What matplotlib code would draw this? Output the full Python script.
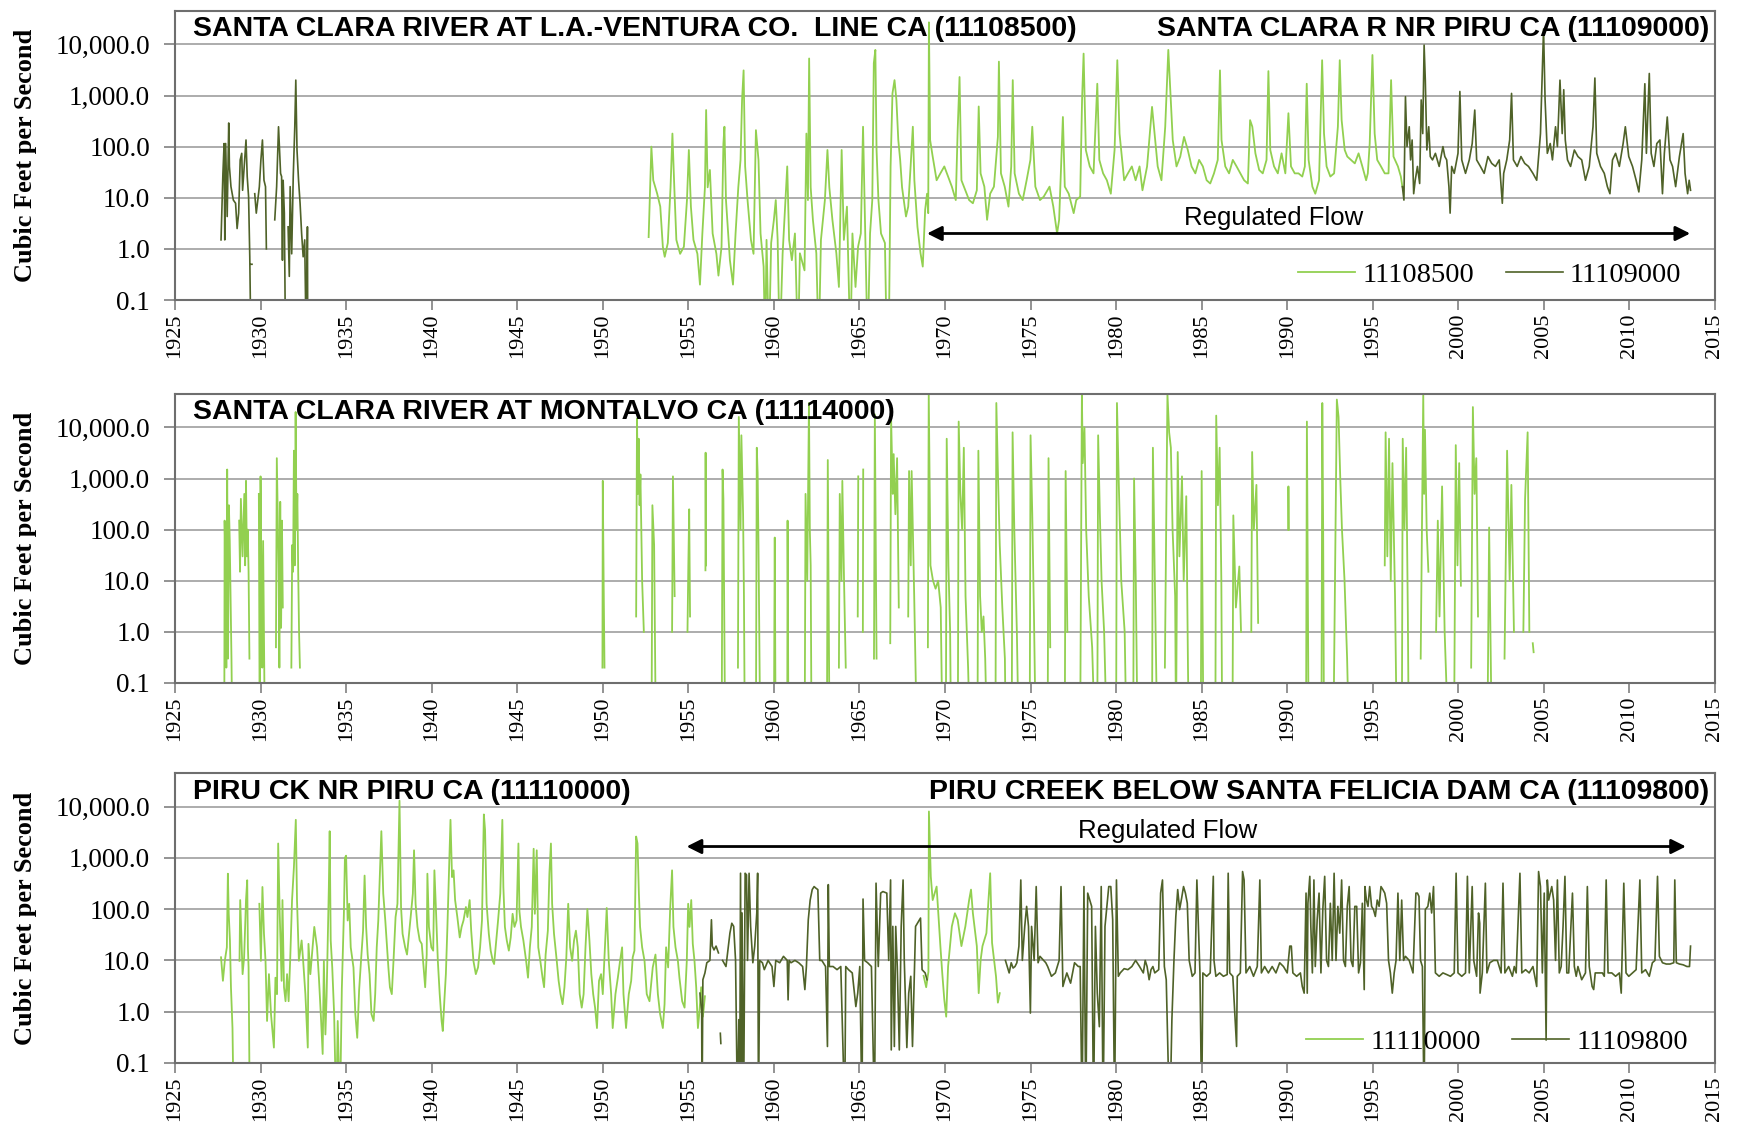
import matplotlib

matplotlib.use("Agg")
import matplotlib.pyplot as plt
import numpy as np
from matplotlib.ticker import FixedLocator, NullLocator

LIGHT = "#92D050"
DARK = "#4F6228"
FLOOR = 0.01  # zero flow is drawn down to the floor (below the 0.1 axis)

YTICKS = [0.1, 1, 10, 100, 1000, 10000]
YTICK_LABELS = ["0.1", "1.0", "10.0", "100.0", "1,000.0", "10,000.0"]
XTICKS = list(range(1925, 2016, 5))

# ---- panel 1 ---------------------------------------------------------------
# SANTA CLARA R NR PIRU CA (11109000), daily cfs
Q_11109000 = [
    (1927.69, 1.5), (1927.8, 30), (1927.87, 115), (1927.91, 1.5), (1927.96, 115),
    (1928.05, 4.3), (1928.14, 290), (1928.18, 41), (1928.27, 16.5), (1928.41, 9),
    (1928.54, 7.8), (1928.63, 2.5), (1928.72, 5), (1928.81, 55), (1928.9, 74),
    (1928.95, 14), (1929.08, 64), (1929.15, 135), (1929.22, 26), (1929.3, 10.5),
    (1929.37, 0.7), (1929.44, 0), (1929.45, None), (1929.46, 0.5), (1929.5, 0.5),
    (1929.52, None), (1929.66, 12), (1929.75, 5), (1929.93, 16.5), (1930.02, 55),
    (1930.11, 135), (1930.2, 22), (1930.29, 16.5), (1930.34, 1.0), (1930.36, None),
    (1930.83, 3.7), (1930.94, 16.5), (1931.05, 245), (1931.17, 30), (1931.23, 26),
    (1931.28, 0.6), (1931.32, 22), (1931.39, 5), (1931.46, 0), (1931.5, None),
    (1931.61, 2.7), (1931.68, 0.29), (1931.73, 16.5), (1931.82, 0.8), (1931.91, 26),
    (1932.0, 245), (1932.06, 2000), (1932.13, 86), (1932.22, 22), (1932.31, 7.8),
    (1932.4, 2.0), (1932.49, 0.7), (1932.58, 1.5), (1932.67, 0), (1932.74, 2.7),
    (1932.76, 0), (1932.8, None),
    (1996.73, 16.5), (1996.82, 9), (1996.91, 950), (1997.0, 100), (1997.13, 245),
    (1997.21, 55), (1997.3, 135), (1997.39, 12), (1997.48, 22), (1997.61, 41),
    (1997.74, 19), (1997.83, 820), (1997.92, 180), (1998.0, 9700), (1998.07, 2000),
    (1998.16, 86), (1998.27, 245), (1998.36, 64), (1998.49, 55), (1998.66, 74),
    (1998.88, 41), (1999.1, 100), (1999.21, 64), (1999.32, 55), (1999.45, 16.5),
    (1999.52, 5), (1999.61, 41), (1999.76, 30), (1999.98, 74), (2000.09, 1200),
    (2000.2, 55), (2000.42, 30), (2000.64, 55), (2000.81, 115), (2000.96, 520),
    (2001.07, 55), (2001.29, 41), (2001.51, 30), (2001.73, 64), (2001.95, 47),
    (2002.17, 41), (2002.39, 55), (2002.57, 7.8), (2002.65, 30), (2002.83, 55),
    (2003.0, 135), (2003.11, 1100), (2003.22, 55), (2003.44, 41), (2003.66, 64),
    (2003.88, 47), (2004.1, 41), (2004.36, 30), (2004.58, 22), (2004.8, 180),
    (2004.91, 3100), (2004.98, 20000), (2005.07, 820), (2005.2, 74), (2005.37, 115),
    (2005.5, 55), (2005.68, 245), (2005.79, 100), (2005.94, 2000), (2006.07, 180),
    (2006.16, 1300), (2006.25, 135), (2006.38, 55), (2006.56, 41), (2006.78, 86),
    (2006.99, 64), (2007.21, 55), (2007.43, 22), (2007.65, 41), (2007.87, 245),
    (2007.98, 2200), (2008.09, 74), (2008.31, 41), (2008.53, 30), (2008.71, 16.5),
    (2008.86, 12), (2009.01, 55), (2009.19, 74), (2009.41, 41), (2009.63, 115),
    (2009.76, 245), (2009.96, 64), (2010.18, 41), (2010.39, 22), (2010.55, 13),
    (2010.72, 55), (2010.9, 1700), (2010.99, 74), (2011.16, 2700), (2011.27, 74),
    (2011.43, 41), (2011.6, 115), (2011.78, 135), (2011.93, 12), (2012.04, 74),
    (2012.21, 380), (2012.37, 55), (2012.52, 41), (2012.7, 16.5), (2012.92, 64),
    (2013.14, 180), (2013.25, 30), (2013.4, 12), (2013.49, 22), (2013.57, 14),
]

# SANTA CLARA RIVER AT L.A.-VENTURA CO. LINE CA (11108500)
Q_11108500 = [
    (1952.68, 1.7), (1952.84, 100), (1952.95, 22), (1953.18, 12), (1953.36, 6.7),
    (1953.51, 1.1), (1953.62, 0.7), (1953.8, 1.3), (1953.96, 16), (1954.07, 180),
    (1954.18, 16), (1954.3, 1.5), (1954.52, 0.8), (1954.74, 1.1), (1954.92, 9),
    (1955.03, 86), (1955.15, 6.7), (1955.3, 1.5), (1955.53, 0.8), (1955.68, 0.2),
    (1955.82, 2.0), (1955.97, 16), (1956.04, 520), (1956.13, 16), (1956.26, 35),
    (1956.42, 2.0), (1956.64, 0.8), (1956.76, 0.3), (1956.94, 1.1), (1957.05, 115),
    (1957.11, 245), (1957.2, 9), (1957.43, 0.6), (1957.61, 0.2), (1957.76, 2.0),
    (1957.92, 16), (1958.05, 55), (1958.14, 820), (1958.23, 3100), (1958.32, 41),
    (1958.46, 9), (1958.66, 1.5), (1958.81, 0.8), (1958.95, 210), (1959.1, 55),
    (1959.22, 2.0), (1959.4, 0.45), (1959.49, 0), (1959.57, 1.5), (1959.71, 0),
    (1959.84, 1.3), (1960.0, 3.7), (1960.11, 9), (1960.22, 1.5), (1960.34, 0),
    (1960.51, 0.8), (1960.78, 41), (1960.89, 1.5), (1961.05, 0.6), (1961.23, 2.0),
    (1961.41, 0), (1961.52, 0.82), (1961.79, 0.38), (1961.9, 180), (1961.99, 9),
    (1962.06, 5300), (1962.15, 16), (1962.28, 3.7), (1962.48, 0.82), (1962.62, 0),
    (1962.75, 1.5), (1962.98, 9), (1963.13, 86), (1963.24, 16), (1963.42, 3.7),
    (1963.65, 0.82), (1963.8, 0.18), (1963.96, 86), (1964.09, 1.5), (1964.27, 6.7),
    (1964.47, 0), (1964.59, 2.0), (1964.77, 0.18), (1964.92, 1.1), (1965.08, 2.0),
    (1965.21, 245), (1965.3, 9), (1965.48, 0), (1965.62, 2.0), (1965.75, 9),
    (1965.84, 4300), (1965.93, 7800), (1966.0, 86), (1966.11, 9), (1966.26, 2.0),
    (1966.49, 1.3), (1966.6, 0), (1966.71, 0), (1966.82, 41), (1966.93, 1100),
    (1967.05, 2000), (1967.16, 820), (1967.27, 135), (1967.38, 55), (1967.49, 16),
    (1967.72, 4.3), (1967.85, 6.7), (1967.99, 41), (1968.12, 245), (1968.21, 22),
    (1968.39, 2.7), (1968.57, 0.82), (1968.7, 0.45), (1968.84, 5.8), (1968.95, 12),
    (1969.02, 5), (1969.06, 27000), (1969.13, 135), (1969.28, 64), (1969.51, 22),
    (1969.73, 30), (1969.96, 41), (1970.18, 26), (1970.4, 16.5), (1970.63, 9),
    (1970.74, 210), (1970.85, 2300), (1970.96, 22), (1971.19, 14), (1971.41, 9),
    (1971.63, 7.8), (1971.86, 14), (1971.97, 610), (1972.08, 30), (1972.3, 16.5),
    (1972.46, 3.7), (1972.64, 12), (1972.86, 16.5), (1973.09, 155), (1973.15, 4600),
    (1973.27, 30), (1973.49, 16.5), (1973.71, 6.7), (1973.87, 41), (1973.96, 2000),
    (1974.07, 30), (1974.32, 12), (1974.54, 9), (1974.77, 22), (1974.99, 55),
    (1975.1, 245), (1975.28, 16.5), (1975.55, 9), (1975.77, 10.5), (1976.11, 16.5),
    (1976.33, 6.7), (1976.55, 2.0), (1976.67, 3.7), (1976.89, 380), (1977.0, 16.5),
    (1977.23, 12), (1977.52, 5), (1977.67, 9), (1977.9, 10.5), (1978.01, 820),
    (1978.1, 6600), (1978.23, 86), (1978.46, 41), (1978.68, 30), (1978.9, 1700),
    (1979.02, 55), (1979.24, 30), (1979.46, 22), (1979.69, 12), (1979.91, 86),
    (1980.07, 4900), (1980.2, 180), (1980.47, 22), (1980.69, 30), (1980.92, 41),
    (1981.14, 22), (1981.37, 41), (1981.54, 14), (1981.81, 41), (1982.1, 600),
    (1982.43, 41), (1982.65, 22), (1982.87, 245), (1983.05, 7800), (1983.31, 135),
    (1983.53, 41), (1983.75, 64), (1983.97, 155), (1984.19, 86), (1984.41, 41),
    (1984.63, 30), (1984.85, 55), (1985.07, 41), (1985.29, 22), (1985.5, 19),
    (1985.72, 30), (1985.94, 55), (1986.07, 3100), (1986.16, 135), (1986.38, 41),
    (1986.6, 30), (1986.82, 55), (1987.04, 41), (1987.26, 30), (1987.48, 22),
    (1987.7, 19), (1987.83, 330), (1987.96, 245), (1988.14, 74), (1988.36, 35),
    (1988.57, 30), (1988.79, 55), (1988.9, 3000), (1989.01, 86), (1989.23, 41),
    (1989.45, 30), (1989.67, 74), (1989.89, 30), (1990.07, 450), (1990.22, 41),
    (1990.44, 30), (1990.66, 30), (1990.88, 26), (1991.03, 41), (1991.14, 1700),
    (1991.25, 55), (1991.47, 16.5), (1991.64, 12), (1991.86, 22), (1992.04, 4900),
    (1992.15, 180), (1992.3, 41), (1992.52, 26), (1992.74, 30), (1992.96, 245),
    (1993.07, 4900), (1993.18, 330), (1993.36, 86), (1993.51, 64), (1993.73, 55),
    (1993.95, 47), (1994.17, 74), (1994.39, 41), (1994.61, 22), (1994.71, 30),
    (1994.82, 115), (1994.98, 6200), (1995.11, 180), (1995.26, 55), (1995.48, 41),
    (1995.7, 30), (1995.92, 30), (1996.07, 2000), (1996.21, 64), (1996.47, 41),
    (1996.64, 26), (1996.73, 16.5),
]

# ---- panel 2 ---------------------------------------------------------------
# SANTA CLARA RIVER AT MONTALVO CA (11114000), mostly dry between storms
Q_11114000 = [
    (1927.88, 0), (1927.9, 150), (1927.95, 20), (1928.0, 0.2), (1928.05, 1500),
    (1928.1, 0.3), (1928.15, 300), (1928.2, 60), (1928.3, 0.3), (1928.35, 0),
    (1928.36, None),
    (1928.75, 150), (1928.8, 15), (1928.85, 400), (1928.95, 30), (1929.05, 500),
    (1929.1, 20), (1929.15, 900), (1929.2, 30), (1929.25, 100), (1929.3, 15),
    (1929.35, 0.3), (1929.36, None),
    (1929.9, 500), (1929.95, 0), (1930.0, 1100), (1930.05, 10), (1930.1, 0.2),
    (1930.15, 60), (1930.25, 0), (1930.26, None),
    (1930.9, 0.5), (1930.95, 2500), (1931.05, 20), (1931.1, 0.2), (1931.15, 350),
    (1931.2, 1.2), (1931.25, 150), (1931.3, 3), (1931.31, None),
    (1931.8, 0.2), (1931.85, 50), (1931.9, 15), (1931.95, 3500), (1932.0, 20),
    (1932.05, 20000), (1932.1, 100), (1932.15, 500), (1932.2, 15), (1932.25, 1),
    (1932.3, 0.2), (1932.31, None),
    (1949.98, 0.2), (1950.0, 900), (1950.05, 10), (1950.1, 0.2), (1950.11, None),
    (1951.95, 2), (1952.0, 15000), (1952.05, 500), (1952.1, 6000), (1952.15, 300),
    (1952.2, 1200), (1952.3, 10), (1952.4, 1), (1952.41, None),
    (1952.85, 0), (1952.9, 300), (1953.0, 50), (1953.1, 0), (1953.11, None),
    (1954.05, 1), (1954.1, 1100), (1954.2, 5), (1954.21, None),
    (1954.95, 1), (1955.0, 20), (1955.05, 250), (1955.1, 2), (1955.11, None),
    (1956.0, 16), (1956.01, 3200), (1956.03, 20), (1956.04, None),
    (1956.95, 0), (1957.0, 1500), (1957.05, 400), (1957.15, 0), (1957.16, None),
    (1957.9, 0.2), (1957.95, 16000), (1958.05, 100), (1958.1, 7000), (1958.2, 200),
    (1958.25, 5), (1958.3, 0), (1958.31, None),
    (1958.95, 0), (1959.0, 4000), (1959.05, 1300), (1959.1, 50), (1959.2, 0),
    (1959.21, None),
    (1960.0, 0), (1960.05, 70), (1960.1, 0), (1960.11, None),
    (1960.78, 0), (1960.8, 150), (1960.85, 0), (1960.86, None),
    (1961.8, 0), (1961.85, 500), (1961.95, 10), (1962.05, 30000), (1962.1, 100),
    (1962.15, 20), (1962.2, 0), (1962.21, None),
    (1963.1, 0), (1963.15, 2300), (1963.25, 0), (1963.26, None),
    (1963.8, 0.2), (1963.85, 500), (1963.95, 10), (1964.0, 900), (1964.1, 10),
    (1964.2, 0.2), (1964.21, None),
    (1964.9, 2), (1964.93, 1100), (1964.94, None),
    (1965.2, 1), (1965.22, 1500), (1965.23, None),
    (1965.85, 0.3), (1965.9, 18000), (1965.95, 100), (1966.0, 0.3), (1966.01, None),
    (1966.8, 0.6), (1966.85, 15000), (1966.95, 500), (1967.0, 3000), (1967.1, 200),
    (1967.2, 2500), (1967.3, 3), (1967.31, None),
    (1967.85, 2), (1967.9, 1400), (1968.0, 20), (1968.05, 1400), (1968.2, 5),
    (1968.35, 0), (1968.36, None),
    (1969.0, 0.5), (1969.05, 45000), (1969.1, 800), (1969.15, 20), (1969.3, 10),
    (1969.45, 7), (1969.6, 10), (1969.75, 3), (1969.85, 0), (1969.86, None),
    (1970.05, 0), (1970.1, 6000), (1970.2, 20), (1970.3, 1), (1970.35, 0),
    (1970.36, None),
    (1970.75, 0), (1970.8, 13000), (1970.9, 500), (1971.0, 100), (1971.1, 4000),
    (1971.2, 5), (1971.35, 0.2), (1971.45, 0), (1971.46, None),
    (1971.9, 0), (1971.95, 3500), (1972.05, 5), (1972.15, 1), (1972.25, 2),
    (1972.35, 0.3), (1972.45, 0), (1972.46, None),
    (1972.95, 0), (1973.0, 30000), (1973.1, 1000), (1973.2, 50), (1973.35, 3),
    (1973.5, 0.3), (1973.55, 0), (1973.56, None),
    (1973.9, 0), (1973.95, 8000), (1974.05, 100), (1974.2, 1), (1974.3, 0),
    (1974.31, None),
    (1974.95, 0), (1975.0, 7000), (1975.1, 200), (1975.2, 2), (1975.3, 0),
    (1975.31, None),
    (1976.0, 0), (1976.05, 2500), (1976.15, 0.5), (1976.16, None),
    (1977.0, 0), (1977.05, 1400), (1977.15, 1), (1977.16, None),
    (1977.9, 0), (1978.0, 45000), (1978.05, 2000), (1978.15, 10000), (1978.25, 100),
    (1978.4, 5), (1978.6, 0.5), (1978.75, 0), (1978.76, None),
    (1978.9, 0), (1978.95, 7000), (1979.05, 200), (1979.15, 10), (1979.3, 1),
    (1979.45, 0), (1979.46, None),
    (1980.0, 0), (1980.05, 30000), (1980.15, 1000), (1980.3, 10), (1980.5, 1),
    (1980.6, 0), (1980.61, None),
    (1981.0, 0), (1981.05, 1000), (1981.15, 10), (1981.25, 0), (1981.26, None),
    (1982.1, 0), (1982.15, 4000), (1982.25, 20), (1982.4, 0), (1982.41, None),
    (1982.85, 0.2), (1983.0, 45000), (1983.1, 8000), (1983.2, 4000), (1983.3, 100),
    (1983.45, 5), (1983.5, 0), (1983.6, 3300), (1983.7, 30), (1983.85, 1100),
    (1983.95, 10), (1984.1, 450), (1984.2, 0.2), (1984.25, 0), (1984.26, None),
    (1984.95, 0), (1985.0, 1400), (1985.1, 0), (1985.11, None),
    (1985.8, 0), (1985.85, 17000), (1985.95, 300), (1986.05, 4000), (1986.15, 10),
    (1986.2, 0), (1986.21, None),
    (1986.8, 0), (1986.85, 190), (1987.0, 3), (1987.2, 19), (1987.3, 1),
    (1987.31, None),
    (1987.9, 1), (1987.95, 3300), (1988.05, 100), (1988.2, 750), (1988.3, 1.5),
    (1988.31, None),
    (1990.05, 100), (1990.07, 700), (1990.1, 100), (1990.11, None),
    (1991.1, 0), (1991.15, 13000), (1991.25, 0), (1991.26, None),
    (1992.0, 0), (1992.05, 30000), (1992.1, 100), (1992.15, 0), (1992.16, None),
    (1992.7, 0), (1992.9, 35000), (1993.0, 16000), (1993.1, 1000), (1993.2, 100),
    (1993.35, 10), (1993.5, 0.3), (1993.6, 0), (1993.61, None),
    (1995.7, 20), (1995.75, 8000), (1995.85, 30), (1995.95, 6000), (1996.05, 10),
    (1996.15, 2000), (1996.3, 5), (1996.4, 0), (1996.41, None),
    (1996.7, 0), (1996.75, 6000), (1996.85, 100), (1996.95, 4000), (1997.05, 2),
    (1997.1, 0), (1997.11, None),
    (1997.8, 0.3), (1997.95, 45000), (1998.0, 500), (1998.05, 9000), (1998.15, 100),
    (1998.25, 15), (1998.26, None),
    (1998.7, 1), (1998.8, 150), (1998.9, 2), (1999.05, 700), (1999.2, 1),
    (1999.4, 0), (1999.41, None),
    (1999.75, 0), (1999.85, 4500), (1999.95, 20), (2000.05, 2000), (2000.15, 8),
    (2000.16, None),
    (2000.75, 0.2), (2000.85, 25000), (2000.95, 500), (2001.05, 2500), (2001.15, 2),
    (2001.16, None),
    (2001.7, 0), (2001.8, 110), (2001.95, 0), (2001.96, None),
    (2002.7, 0.3), (2002.85, 3500), (2003.0, 10), (2003.1, 750), (2003.25, 1),
    (2003.26, None),
    (2003.8, 1), (2003.9, 400), (2004.05, 8000), (2004.1, 100), (2004.15, 1),
    (2004.16, None),
    (2004.35, 0.6), (2004.4, 0.4),
]

# ---- panel 3 ---------------------------------------------------------------
# PIRU CK NR PIRU CA (11110000)
Q_11110000 = [
    (1927.69, 11.5), (1927.8, 4.0), (1927.91, 9.8), (1928.03, 18), (1928.09, 490),
    (1928.14, 81), (1928.21, 24.5), (1928.27, 3.0), (1928.36, 0.48), (1928.43, 0),
    (1928.5, None),
    (1928.77, 9.8), (1928.81, 150), (1928.9, 18), (1928.95, 5.4), (1929.04, 11.5),
    (1929.15, 150), (1929.22, 365), (1929.26, 18), (1929.3, 7.3), (1929.37, 0),
    (1929.4, None),
    (1929.93, 127), (1930.02, 9.8), (1930.11, 270), (1930.2, 33), (1930.29, 9.8),
    (1930.38, 0.66), (1930.49, 5.4), (1930.61, 0.9), (1930.78, 0.2), (1930.87, 4.6),
    (1930.96, 2.2), (1931.03, 1900), (1931.12, 81), (1931.23, 4.0), (1931.28, 150),
    (1931.37, 3.0), (1931.46, 1.6), (1931.55, 5.4), (1931.64, 1.6), (1931.73, 9.8),
    (1931.84, 150), (1931.95, 660), (1932.06, 5500), (1932.13, 150), (1932.24, 9.8),
    (1932.4, 24.5), (1932.49, 9.8), (1932.62, 2.2), (1932.76, 0.2), (1932.8, 21),
    (1932.91, 5.4), (1933.07, 24.5), (1933.14, 45), (1933.3, 18), (1933.41, 4.6),
    (1933.52, 0.9), (1933.63, 0.15), (1933.7, 9.8), (1933.79, 0.36), (1933.86, 2.0),
    (1933.92, 18), (1933.99, 260), (1934.04, 3300), (1934.1, 24.5), (1934.19, 7.3),
    (1934.3, 0.9), (1934.42, 0), (1934.51, 0.66), (1934.64, 0), (1934.75, 2.8),
    (1934.87, 81), (1934.93, 1000), (1935.0, 1100), (1935.09, 60), (1935.18, 127),
    (1935.27, 18), (1935.43, 7.3), (1935.54, 0.9), (1935.65, 0.31), (1935.76, 2.6),
    (1935.87, 9.8), (1935.99, 38), (1936.08, 450), (1936.17, 45), (1936.26, 13),
    (1936.37, 5.4), (1936.48, 0.9), (1936.61, 0.66), (1936.7, 2.2), (1936.79, 18),
    (1936.88, 60), (1937.0, 900), (1937.06, 3300), (1937.17, 200), (1937.29, 60),
    (1937.38, 21), (1937.47, 7.3), (1937.56, 3.0), (1937.67, 2.2), (1937.78, 11.5),
    (1937.89, 70), (1938.0, 127), (1938.12, 13000), (1938.21, 110), (1938.3, 33),
    (1938.45, 18), (1938.56, 13), (1938.68, 33), (1938.79, 81), (1938.9, 200),
    (1938.97, 1400), (1939.06, 127), (1939.17, 45), (1939.3, 24.5), (1939.42, 21),
    (1939.53, 7.3), (1939.62, 3.0), (1939.71, 13), (1939.75, 490), (1939.84, 45),
    (1939.98, 18), (1940.09, 15.5), (1940.16, 570), (1940.25, 100), (1940.36, 9.8),
    (1940.47, 2.2), (1940.58, 0.66), (1940.65, 0.42), (1940.74, 1.6), (1940.83, 5.4),
    (1940.92, 45), (1941.03, 900), (1941.1, 5500), (1941.19, 420), (1941.28, 570),
    (1941.37, 150), (1941.5, 70), (1941.64, 28), (1941.75, 45), (1941.86, 60),
    (1942.0, 110), (1942.09, 70), (1942.22, 150), (1942.31, 38), (1942.44, 9.8),
    (1942.58, 5.4), (1942.71, 7.3), (1942.83, 18), (1942.94, 60), (1943.05, 7000),
    (1943.12, 3500), (1943.21, 127), (1943.34, 33), (1943.45, 15.5), (1943.57, 9.8),
    (1943.65, 8.5), (1943.74, 18), (1943.88, 60), (1944.01, 200), (1944.13, 5500),
    (1944.19, 270), (1944.28, 45), (1944.39, 24.5), (1944.51, 15.5), (1944.62, 28),
    (1944.73, 81), (1944.84, 45), (1944.96, 60), (1945.07, 1900), (1945.13, 90),
    (1945.22, 45), (1945.36, 24.5), (1945.52, 9.8), (1945.63, 4.6), (1945.74, 18),
    (1945.85, 45), (1945.96, 1500), (1946.03, 81), (1946.14, 1400), (1946.23, 18),
    (1946.35, 9.8), (1946.48, 4.6), (1946.57, 3.0), (1946.66, 13), (1946.79, 38),
    (1946.88, 490), (1946.97, 1900), (1947.04, 127), (1947.15, 33), (1947.31, 9.8),
    (1947.42, 4.0), (1947.53, 2.2), (1947.65, 1.4), (1947.76, 3.0), (1947.87, 11.5),
    (1947.98, 127), (1948.09, 18), (1948.21, 9.8), (1948.32, 24.5), (1948.43, 38),
    (1948.54, 18), (1948.65, 2.2), (1948.77, 1.2), (1948.88, 2.2), (1948.99, 18),
    (1949.1, 100), (1949.22, 24.5), (1949.33, 5.4), (1949.44, 2.2), (1949.55, 1.2),
    (1949.66, 0.48), (1949.78, 4.0), (1949.9, 5.4), (1950.0, 2.2), (1950.16, 33),
    (1950.23, 105), (1950.35, 9.8), (1950.49, 2.2), (1950.58, 0.48), (1950.74, 2.2),
    (1950.88, 4.6), (1951.01, 9.8), (1951.13, 18), (1951.21, 2.2), (1951.36, 0.48),
    (1951.52, 2.2), (1951.66, 4.0), (1951.75, 11.5), (1951.85, 15.5), (1951.95, 2600),
    (1952.03, 1900), (1952.11, 200), (1952.18, 45), (1952.3, 18), (1952.44, 9.8),
    (1952.57, 2.2), (1952.73, 1.6), (1952.92, 7.3), (1953.08, 13), (1953.22, 2.2),
    (1953.35, 0.9), (1953.51, 0.48), (1953.61, 1.4), (1953.7, 18), (1953.82, 7.3),
    (1953.94, 105), (1954.05, 570), (1954.13, 45), (1954.25, 18), (1954.39, 9.8),
    (1954.48, 4.6), (1954.64, 1.6), (1954.78, 1.2), (1954.91, 9.8), (1954.99, 127),
    (1955.07, 45), (1955.17, 150), (1955.26, 21), (1955.36, 9.8), (1955.46, 3.0),
    (1955.56, 0.48), (1955.65, 1.0), (1955.75, 3.0), (1955.85, 0.8), (1955.97, 2.0),
    (1956.0, None),
    (1968.75, 5.0), (1968.9, 3.0), (1969.03, 6.0), (1969.06, 8000), (1969.17, 430),
    (1969.28, 150), (1969.51, 275), (1969.62, 72), (1969.73, 19), (1969.84, 5.6),
    (1969.96, 1.7), (1970.07, 0.8), (1970.18, 7.6), (1970.29, 19), (1970.4, 46),
    (1970.58, 83), (1970.74, 62), (1970.96, 19), (1971.19, 46), (1971.41, 150),
    (1971.52, 240), (1971.63, 83), (1971.86, 19), (1971.97, 2.3), (1972.08, 10),
    (1972.19, 19), (1972.42, 34), (1972.64, 500), (1972.75, 22), (1972.98, 4.9),
    (1973.09, 1.5), (1973.2, 2.3),
]

# PIRU CREEK BELOW SANTA FELICIA DAM CA (11109800), regulated releases
Q_11109800 = [
    (1955.68, 2.3), (1955.78, 1.0), (1955.8, 0), (1955.85, 4.2), (1955.97, 5.7),
    (1956.08, 9), (1956.26, 10), (1956.35, 62), (1956.4, 19), (1956.5, 16),
    (1956.62, 19), (1956.76, 14), (1956.8, None), (1956.87, 0.38), (1956.9, 0.24),
    (1956.93, None), (1957.0, 10), (1957.2, 7.6), (1957.43, 34), (1957.54, 53),
    (1957.65, 46), (1957.76, 10), (1957.87, 0), (1957.95, 0.7), (1958.0, 0),
    (1958.05, 500), (1958.1, 0), (1958.14, 84), (1958.23, 0), (1958.32, 500),
    (1958.4, 465), (1958.46, 10), (1958.55, 500), (1958.64, 46), (1958.77, 9),
    (1958.88, 19), (1959.0, 84), (1959.05, 500), (1959.1, 0), (1959.17, 10),
    (1959.33, 9), (1959.44, 6.6), (1959.66, 10), (1959.89, 7.6), (1960.0, 3.1),
    (1960.11, 10), (1960.34, 9), (1960.56, 12), (1960.78, 10), (1960.83, 1.7),
    (1960.89, 10), (1961.0, 9), (1961.23, 10), (1961.45, 9), (1961.68, 7.6),
    (1961.81, 2.7), (1961.9, 7.6), (1962.01, 62), (1962.12, 150), (1962.24, 240),
    (1962.35, 275), (1962.46, 255), (1962.57, 240), (1962.68, 10), (1962.8, 10),
    (1963.02, 7.6), (1963.13, 0.21), (1963.18, 300), (1963.24, 7.6), (1963.46, 7.6),
    (1963.69, 6.6), (1963.91, 7.6), (1964.14, 0), (1964.2, 7.6), (1964.36, 6.6),
    (1964.58, 5.7), (1964.79, 1.26), (1964.9, 2.3), (1965.02, 7.6), (1965.15, 0),
    (1965.21, 157), (1965.3, 10), (1965.48, 9), (1965.7, 7.6), (1965.88, 0),
    (1965.97, 320), (1966.1, 7.6), (1966.24, 205), (1966.37, 220), (1966.6, 205),
    (1966.71, 10), (1966.82, 370), (1966.86, 0.18), (1966.95, 46), (1967.04, 0.21),
    (1967.12, 46), (1967.21, 7.6), (1967.33, 0.18), (1967.44, 46), (1967.55, 370),
    (1967.62, 10), (1967.77, 0.2), (1967.88, 2.3), (1968.0, 4.9), (1968.1, 0.21),
    (1968.28, 46), (1968.39, 53), (1968.57, 67), (1968.66, 6.6), (1968.84, 5.7),
    (1968.95, 4.2), (1969.0, None),
    (1973.53, 10), (1973.64, 7.6), (1973.75, 5.7), (1973.87, 9), (1973.98, 7.1),
    (1974.09, 7.6), (1974.2, 9), (1974.32, 19), (1974.43, 370), (1974.52, 10),
    (1974.66, 46), (1974.77, 113), (1974.88, 46), (1974.99, 0.94), (1975.06, 46),
    (1975.21, 10), (1975.33, 275), (1975.44, 9), (1975.55, 12), (1975.77, 10),
    (1975.89, 9), (1976.0, 7.6), (1976.22, 4.9), (1976.45, 5.7), (1976.67, 10),
    (1976.78, 275), (1976.89, 3.1), (1977.0, 4.2), (1977.12, 5.7), (1977.34, 3.6),
    (1977.57, 9), (1977.79, 7.6), (1977.9, 7.6), (1978.01, 0), (1978.12, 275),
    (1978.23, 0), (1978.34, 205), (1978.46, 150), (1978.57, 113), (1978.68, 0),
    (1978.79, 46), (1978.9, 2.3), (1979.02, 0.51), (1979.13, 275), (1979.24, 0),
    (1979.35, 46), (1979.57, 275), (1979.69, 275), (1979.8, 62), (1979.91, 0),
    (1980.02, 370), (1980.07, 46), (1980.13, 4.9), (1980.24, 5.7), (1980.47, 6.9),
    (1980.69, 6.6), (1980.92, 7.6), (1981.14, 10), (1981.37, 7.6), (1981.59, 5.7),
    (1981.7, 10), (1981.81, 7.6), (1981.93, 4.2), (1982.04, 6.6), (1982.15, 7.6),
    (1982.26, 5.7), (1982.49, 6.6), (1982.6, 205), (1982.71, 370), (1982.82, 7.6),
    (1982.93, 4.2), (1983.04, 0.11), (1983.15, 0), (1983.26, 0.7), (1983.38, 10),
    (1983.49, 72), (1983.6, 240), (1983.71, 98), (1983.83, 164), (1983.94, 275),
    (1984.05, 205), (1984.16, 130), (1984.27, 10), (1984.45, 4.9), (1984.61, 5.7),
    (1984.72, 370), (1984.9, 5.7), (1985.0, 0), (1985.07, 5.7), (1985.29, 4.9),
    (1985.5, 5.7), (1985.68, 435), (1985.72, 10), (1985.83, 4.9), (1986.05, 5.7),
    (1986.27, 4.9), (1986.49, 5.3), (1986.55, 500), (1986.64, 5.7), (1986.82, 4.9),
    (1987.04, 0.21), (1987.08, 4.9), (1987.26, 5.7), (1987.39, 540), (1987.48, 370),
    (1987.59, 5.7), (1987.81, 7.6), (1988.03, 4.9), (1988.25, 7.6), (1988.4, 370),
    (1988.49, 5.7), (1988.68, 7.6), (1988.9, 5.7), (1989.12, 7.6), (1989.34, 5.7),
    (1989.56, 9), (1989.78, 7.6), (1990.0, 5.7), (1990.15, 19), (1990.24, 19),
    (1990.33, 5.7), (1990.55, 4.9), (1990.77, 5.7), (1990.88, 3.1), (1990.99, 2.3),
    (1991.1, 205), (1991.17, 2.3), (1991.21, 130), (1991.32, 435), (1991.38, 46),
    (1991.47, 5.7), (1991.56, 370), (1991.64, 7.6), (1991.75, 62), (1991.86, 205),
    (1991.97, 5.7), (1992.08, 98), (1992.19, 435), (1992.3, 10), (1992.41, 7.6),
    (1992.52, 130), (1992.63, 10), (1992.74, 500), (1992.85, 10), (1992.96, 113),
    (1993.07, 34), (1993.18, 370), (1993.29, 10), (1993.4, 7.6), (1993.51, 113),
    (1993.62, 275), (1993.73, 10), (1993.84, 7.6), (1993.95, 113), (1994.06, 113),
    (1994.17, 5.7), (1994.28, 9), (1994.39, 130), (1994.5, 2.7), (1994.54, 275),
    (1994.63, 150), (1994.72, 113), (1994.82, 275), (1994.93, 113), (1995.04, 98),
    (1995.15, 72), (1995.26, 150), (1995.37, 113), (1995.48, 275), (1995.59, 240),
    (1995.7, 205), (1995.81, 130), (1995.92, 10), (1996.03, 5.7), (1996.14, 2.3),
    (1996.25, 5.7), (1996.36, 10), (1996.47, 205), (1996.58, 10), (1996.69, 150),
    (1996.8, 10), (1996.91, 12), (1997.13, 10), (1997.35, 5.7), (1997.52, 205),
    (1997.61, 205), (1997.7, 177), (1997.79, 10), (1997.9, 7.6), (1998.0, 0),
    (1998.07, 98), (1998.22, 113), (1998.33, 205), (1998.44, 84), (1998.55, 275),
    (1998.66, 5.7), (1998.88, 4.9), (1999.1, 5.7), (1999.32, 5.3), (1999.54, 4.9),
    (1999.76, 5.7), (1999.87, 500), (1999.98, 5.7), (2000.2, 4.9), (2000.42, 5.7),
    (2000.53, 435), (2000.64, 5.7), (2000.81, 275), (2000.9, 10), (2001.07, 4.9),
    (2001.18, 84), (2001.25, 53), (2001.27, 2.3), (2001.4, 5.7), (2001.58, 320),
    (2001.67, 5.7), (2001.84, 9), (2002.06, 10), (2002.28, 10), (2002.5, 5.7),
    (2002.61, 320), (2002.72, 5.7), (2002.94, 7.6), (2003.16, 4.9), (2003.27, 7.6),
    (2003.38, 5.7), (2003.6, 500), (2003.71, 5.7), (2003.93, 6.6), (2004.14, 5.7),
    (2004.36, 7.6), (2004.58, 3.1), (2004.69, 540), (2004.8, 275), (2004.91, 5.7),
    (2005.02, 205), (2005.13, 0.28), (2005.2, 370), (2005.28, 150), (2005.46, 275),
    (2005.57, 150), (2005.68, 10), (2005.79, 370), (2005.9, 5.7), (2006.01, 7.6),
    (2006.12, 46), (2006.23, 435), (2006.34, 5.7), (2006.45, 5.7), (2006.67, 205),
    (2006.78, 7.6), (2006.89, 4.9), (2006.99, 7.6), (2007.1, 5.7), (2007.21, 4.2),
    (2007.43, 5.7), (2007.54, 275), (2007.65, 7.6), (2007.82, 3.1), (2007.91, 2.7),
    (2008.0, 5.7), (2008.2, 5.7), (2008.42, 5.7), (2008.53, 4.9), (2008.64, 370),
    (2008.75, 5.7), (2008.97, 5.7), (2009.19, 4.9), (2009.41, 5.7), (2009.52, 2.3),
    (2009.67, 320), (2009.8, 5.7), (2009.96, 4.9), (2010.18, 5.7), (2010.39, 6.6),
    (2010.61, 370), (2010.72, 5.7), (2010.94, 6.6), (2011.16, 4.9), (2011.34, 9),
    (2011.49, 10), (2011.64, 435), (2011.75, 12), (2011.93, 9), (2012.15, 8.5),
    (2012.37, 8.5), (2012.59, 9), (2012.65, 370), (2012.74, 9), (2012.92, 8.5),
    (2013.14, 8.2), (2013.36, 7.6), (2013.51, 7.6), (2013.57, 19),
]

PANEL_TITLES = [
    ("SANTA CLARA RIVER AT L.A.-VENTURA CO.  LINE CA (11108500)",
     "SANTA CLARA R NR PIRU CA (11109000)"),
    ("SANTA CLARA RIVER AT MONTALVO CA (11114000)", ""),
    ("PIRU CK NR PIRU CA (11110000)",
     "PIRU CREEK BELOW SANTA FELICIA DAM CA (11109800)"),
]


def to_xy(points):
    x = np.array([p[0] for p in points], dtype=float)
    y = np.array(
        [np.nan if p[1] is None else max(p[1], FLOOR) for p in points], dtype=float
    )
    return x, y


def style_axes(ax, left_title, right_title):
    ax.set_yscale("log")
    ax.set_ylim(0.1, 45000)
    ax.set_xlim(1925, 2015)
    ax.yaxis.set_major_locator(FixedLocator(YTICKS))
    ax.yaxis.set_minor_locator(NullLocator())
    ax.set_yticklabels(YTICK_LABELS)
    ax.set_xticks(XTICKS)
    ax.set_xticklabels([str(t) for t in XTICKS], rotation=90)
    for lab in ax.get_xticklabels():
        lab.set_fontfamily("Liberation Serif")
        lab.set_fontsize(16)
    for lab in ax.get_yticklabels():
        lab.set_fontfamily("Liberation Serif")
        lab.set_fontsize(19.5)
    ax.tick_params(axis="y", direction="out", length=8, width=1.2,
                   color="#808080", pad=10)
    ax.tick_params(axis="x", direction="out", length=7, width=1.2,
                   color="#808080", pad=3)
    ax.yaxis.grid(True, color="#a6a6a6", lw=1.3)
    ax.set_axisbelow(True)
    for sp in ax.spines.values():
        sp.set_color("#6e6e6e")
        sp.set_linewidth(1.5)

    ax.text(-0.0974, 0.5, "Cubic Feet per Second", transform=ax.transAxes,
            rotation=90, ha="center", va="center", fontsize=19,
            fontweight="bold", family="Liberation Serif")
    ax.text(0.0117, 0.912, left_title, transform=ax.transAxes, ha="left",
            va="baseline", fontsize=20.5, fontweight="bold",
            family="Liberation Sans")
    if right_title:
        ax.text(0.996, 0.912, right_title, transform=ax.transAxes, ha="right",
                va="baseline", fontsize=20.5, fontweight="bold",
                family="Liberation Sans")


def regulated_arrow(ax, x0, x1, y, text_x, text_y):
    ax.annotate("", xy=(x0, y), xytext=(x1, y),
                arrowprops=dict(arrowstyle="<|-|>", color="black", lw=2,
                                mutation_scale=22, shrinkA=0, shrinkB=0))
    ax.text(text_x, text_y, "Regulated Flow", ha="left", va="baseline",
            fontsize=18.5, family="Liberation Sans")


def add_legend(ax, handles, labels, x, y):
    ax.legend(handles, labels, loc="center right", bbox_to_anchor=(x, y),
              ncol=2, frameon=False, borderpad=0, borderaxespad=0,
              handlelength=2.0, handletextpad=0.25, columnspacing=1.1,
              prop={"family": "Liberation Serif", "size": 20.5})


def plot():
    fig = plt.figure(figsize=(17.38, 11.26), dpi=100)
    left, width = 175 / 1738, 1540 / 1738
    boxes = [(300, 289), (683, 289), (1063, 290)]
    axes = [
        fig.add_axes([left, 1 - bottom / 1126, width, height / 1126])
        for bottom, height in boxes
    ]

    # panel 1
    ax = axes[0]
    l1, = ax.plot(*to_xy(Q_11108500), color=LIGHT, lw=1.3)
    l2, = ax.plot(*to_xy(Q_11109000), color=DARK, lw=1.2)
    style_axes(ax, *PANEL_TITLES[0])
    regulated_arrow(ax, 1968.95, 2013.55, 2.0, 1983.95, 2.9)
    add_legend(ax, [l1, l2], ["11108500", "11109000"], 0.978, 0.087)

    # panel 2
    ax = axes[1]
    ax.plot(*to_xy(Q_11114000), color=LIGHT, lw=1.3)
    style_axes(ax, *PANEL_TITLES[1])

    # panel 3
    ax = axes[2]
    l3, = ax.plot(*to_xy(Q_11110000), color=LIGHT, lw=1.3)
    l4, = ax.plot(*to_xy(Q_11109800), color=DARK, lw=1.2)
    style_axes(ax, *PANEL_TITLES[2])
    regulated_arrow(ax, 1954.9, 2013.3, 1660, 1977.75, 2400)
    add_legend(ax, [l3, l4], ["11110000", "11109800"], 0.9825, 0.072)

    fig.savefig("out.png", dpi=100)


if __name__ == "__main__":
    plot()
